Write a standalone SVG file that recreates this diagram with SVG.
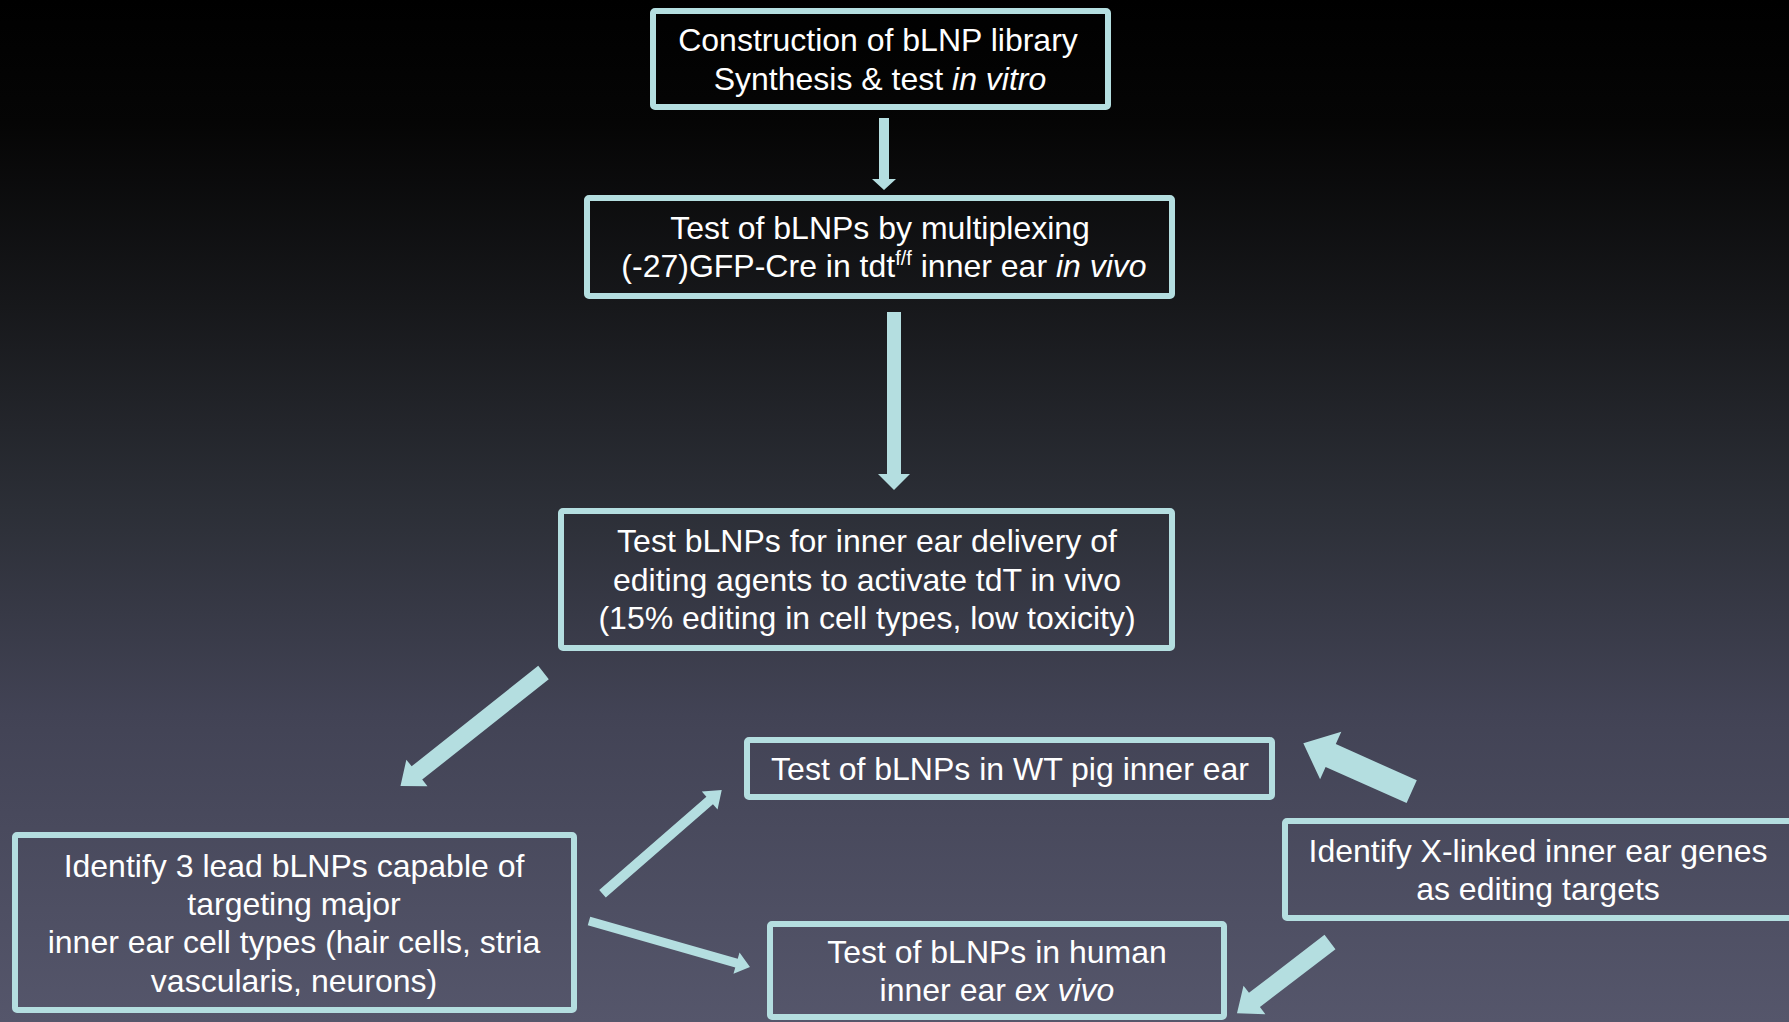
<svg xmlns="http://www.w3.org/2000/svg" width="1789" height="1022" viewBox="0 0 1789 1022">
  <defs>
    <linearGradient id="bg" x1="0" y1="0" x2="0" y2="1">
      <stop offset="0" stop-color="#000000"/>
      <stop offset="0.12" stop-color="#050505"/>
      <stop offset="0.3" stop-color="#17181b"/>
      <stop offset="0.5" stop-color="#2c2f37"/>
      <stop offset="0.7" stop-color="#424355"/>
      <stop offset="1" stop-color="#55566b"/>
    </linearGradient>
    <style>
      .box { fill: none; stroke: #b4dee0; stroke-width: 6; }
      .lbl { font-family: "Liberation Sans", Arial, Helvetica, sans-serif; font-size: 32px; fill: #ffffff; text-anchor: middle; }
      .it { font-style: italic; }
      .arr { fill: #b4dee0; stroke: none; }
    </style>
  </defs>
  <rect x="0" y="0" width="1789" height="1022" fill="url(#bg)"/>

  <g id="connectors">
    <polygon class="arr" transform="translate(884,118) rotate(90)" points="0,-5 61,-5 61,-12 72,0 61,12 61,5 0,5"/>
    <polygon class="arr" transform="translate(894,312) rotate(90)" points="0,-7 162,-7 162,-16 178,0 162,16 162,7 0,7"/>
    <polygon class="arr" transform="translate(543.5,672.5) rotate(141.56)" points="0,-8.5 161.6,-8.5 161.6,-17 182.6,0 161.6,17 161.6,8.5 0,8.5"/>
    <polygon class="arr" transform="translate(602.5,893.7) rotate(-41)" points="0,-5 142,-5 142,-12 158,0 142,12 142,5 0,5"/>
    <polygon class="arr" transform="translate(589,921) rotate(15.94)" points="0,-4.5 153.4,-4.5 153.4,-11 167.4,0 153.4,11 153.4,4.5 0,4.5"/>
    <polygon class="arr" transform="translate(1411.7,791.7) rotate(204.06)" points="0,-12.5 88.7,-12.5 88.7,-26 118.7,0 88.7,26 88.7,12.5 0,12.5"/>
    <polygon class="arr" transform="translate(1330,942) rotate(142.52)" points="0,-9 95.2,-9 95.2,-18 117.2,0 95.2,18 95.2,9 0,9"/>
  </g>

  <g id="node-library">
    <rect class="box" x="653" y="11" width="455" height="96" rx="2"/>
    <text class="lbl" x="878" y="51">Construction of bLNP library</text>
    <text class="lbl" x="880" y="89.5">Synthesis &amp; test <tspan class="it">in vitro</tspan></text>
  </g>

  <g id="node-multiplex">
    <rect class="box" x="587" y="198" width="585" height="98" rx="2"/>
    <text class="lbl" x="880" y="239">Test of bLNPs by multiplexing</text>
    <text class="lbl" x="884" y="277">(-27)GFP-Cre in tdt<tspan font-size="20" dy="-12">f/f</tspan><tspan dy="12"> inner ear </tspan><tspan class="it">in vivo</tspan></text>
  </g>

  <g id="node-delivery">
    <rect class="box" x="561" y="511" width="611" height="137" rx="2"/>
    <text class="lbl" x="867" y="552">Test bLNPs for inner ear delivery of</text>
    <text class="lbl" x="867" y="590.5">editing agents to activate tdT in vivo</text>
    <text class="lbl" x="867" y="629">(15% editing in cell types, low toxicity)</text>
  </g>

  <g id="node-lead">
    <rect class="box" x="15" y="835" width="559" height="175" rx="2"/>
    <text class="lbl" x="294" y="876.5">Identify 3 lead bLNPs capable of</text>
    <text class="lbl" x="294" y="914.5">targeting major</text>
    <text class="lbl" x="294" y="953">inner ear cell types (hair cells, stria</text>
    <text class="lbl" x="294" y="991.5">vascularis, neurons)</text>
  </g>

  <g id="node-pig">
    <rect class="box" x="747" y="740" width="525" height="57" rx="2"/>
    <text class="lbl" x="1010" y="780">Test of bLNPs in WT pig inner ear</text>
  </g>

  <g id="node-human">
    <rect class="box" x="770" y="924" width="454" height="93" rx="2"/>
    <text class="lbl" x="997" y="962.5">Test of bLNPs in human</text>
    <text class="lbl" x="997" y="1001">inner ear <tspan class="it">ex vivo</tspan></text>
  </g>

  <g id="node-xlinked">
    <rect class="box" x="1285" y="821" width="510" height="97" rx="2"/>
    <text class="lbl" x="1538" y="861.5">Identify X-linked inner ear genes</text>
    <text class="lbl" x="1538" y="900">as editing targets</text>
  </g>
</svg>
